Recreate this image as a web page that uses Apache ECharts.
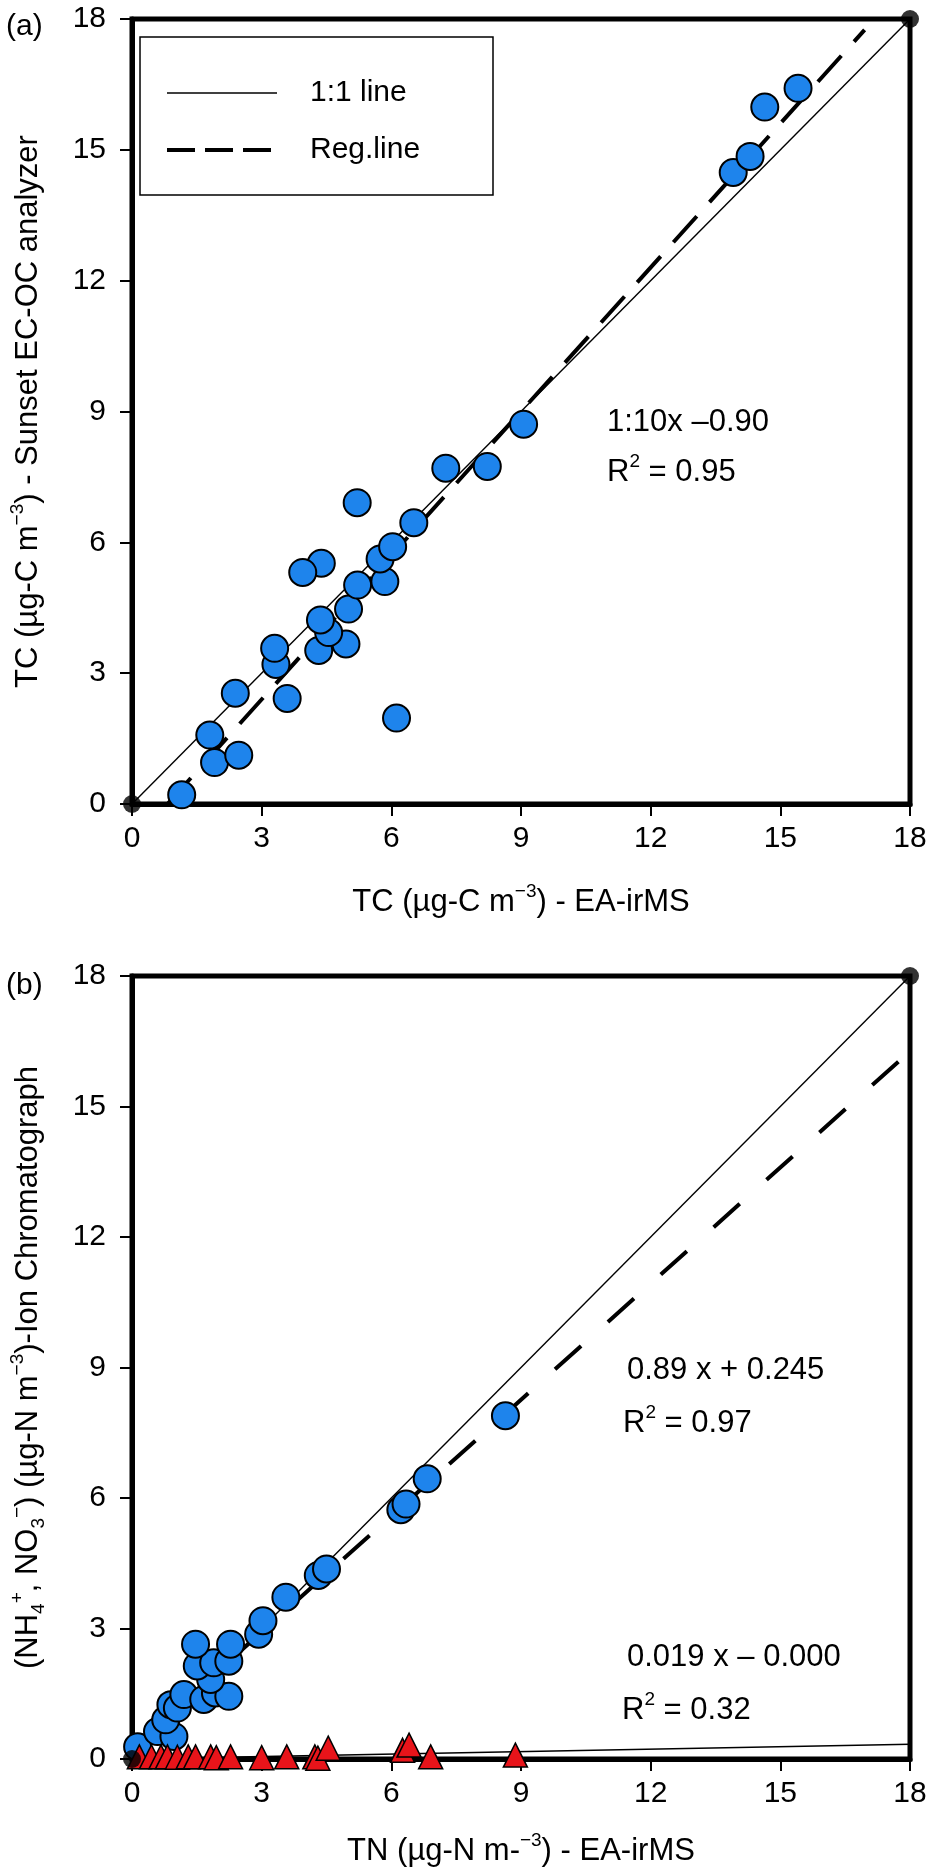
<!DOCTYPE html>
<html lang="en">
<head>
<meta charset="UTF-8">
<title>TC and TN comparison</title>
<script src="https://cdn.jsdelivr.net/npm/echarts@6/dist/echarts.min.js"></script>
<style>
    html, body { margin: 0; padding: 0; background: #fff; }
    #container { width: 930px; height: 1874px; }
</style>
</head>
<body>
<div id="container"></div>

<script type="text/javascript">
    // ---- data ----
    // panel (a): TC, EA-irMS (x) vs Sunset EC-OC analyzer (y)
    var tcEA     = [1.15, 1.91, 2.47, 1.80, 2.39, 3.59, 3.33, 3.30, 4.32, 4.95, 4.55, 4.36, 5.01, 5.22, 5.85, 5.74, 6.03, 5.21, 4.38, 3.95, 6.12, 6.52, 7.26, 8.22, 9.06, 13.91, 14.30, 14.64, 15.41];
    var tcSunset = [0.21, 0.95, 1.12, 1.58, 2.54, 2.42, 3.20, 3.57, 3.52, 3.67, 3.93, 4.22, 4.47, 5.02, 5.10, 5.62, 5.90, 6.91, 5.52, 5.31, 1.97, 6.45, 7.70, 7.74, 8.71, 14.48, 14.85, 15.98, 16.41];
    // regression line (a), end points
    var regAx = [0.82, 16.95];
    var regAy = [0.0, 17.75];

    // panel (b): TN, EA-irMS (x) vs ion chromatograph (y)
    var tnEA = [0.13, 0.59, 0.97, 0.78, 0.90, 1.05, 1.20, 1.66, 1.93, 2.24, 1.82, 1.51, 1.89, 2.24, 1.47, 2.28, 2.93, 3.03, 3.56, 4.31, 4.50, 6.22, 6.34, 6.83, 8.64];
    var tnIC = [0.28, 0.63, 0.52, 0.90, 1.25, 1.17, 1.48, 1.37, 1.52, 1.44, 1.83, 2.14, 2.21, 2.25, 2.64, 2.64, 2.87, 3.18, 3.72, 4.22, 4.37, 5.73, 5.86, 6.44, 7.89];
    // second set (triangles)
    var tnEA2 = [0.17, 0.45, 0.67, 0.82, 1.05, 1.30, 1.47, 1.82, 1.95, 2.28, 3.00, 3.58, 4.23, 4.30, 4.54, 6.26, 6.41, 6.91, 8.87];
    var tnIC2 = [0.05, 0.05, 0.05, 0.05, 0.04, 0.05, 0.05, 0.05, 0.03, 0.05, 0.03, 0.05, 0.05, 0.02, 0.25, 0.20, 0.32, 0.05, 0.09];
    var regBx = [0, 18];
    var regBy = [0.245, 16.27];
    var reg2Bx = [0, 18];
    var reg2By = [0, 0.34];

    // shared
    var oneToOne = [0, 18];
    var ticks = [0, 3, 6, 9, 12, 15, 18];

    var FONT = "'Liberation Sans', Arial, Helvetica, sans-serif";

    function pairs(xs, ys) {
        var out = [];
        for (var i = 0; i < xs.length; i++) out.push([xs[i], ys[i]]);
        return out;
    }

    var richStyle = {
        sup: { fontSize: 19, verticalAlign: 'top', lineHeight: 20, fontFamily: FONT, color: '#000' },
        sub: { fontSize: 19, verticalAlign: 'bottom', lineHeight: 20, fontFamily: FONT, color: '#000' }
    };

    function axis(gridIndex, name, gap, isY) {
        return {
            type: 'value',
            gridIndex: gridIndex,
            min: ticks[0],
            max: ticks[ticks.length - 1],
            interval: 3,
            name: name,
            nameLocation: 'middle',
            nameGap: gap,
            nameTextStyle: {
                fontSize: 31, fontFamily: FONT, color: '#000', lineHeight: 40,
                rich: richStyle
            },
            axisLine: { show: true, onZero: false, lineStyle: { color: '#000', width: 5 } },
            axisTick: { show: true, inside: false, length: 12, lineStyle: { color: '#000', width: 2 } },
            axisLabel: { fontSize: 30, fontFamily: FONT, color: '#000', margin: isY ? 26 : 20 },
            splitLine: { show: false }
        };
    }

    var chart = echarts.init(document.getElementById('container'), null, { renderer: 'canvas' });

    var option = {
        backgroundColor: '#fff',
        animation: false,
        grid: [
            { left: 125, top: 19, width: 785, height: 785, show: true, borderColor: '#000', borderWidth: 5, containLabel: false },
            { left: 126, top: 976, width: 784, height: 783, show: true, borderColor: '#000', borderWidth: 5, containLabel: false }
        ],
        xAxis: [
            axis(0, 'TC (µg-C m{sup|−3}) - EA-irMS', 78, false),
            axis(1, 'TN (µg-N m-{sup|−3}) - EA-irMS', 72, false)
        ],
        yAxis: [
            axis(0, 'TC (µg-C m{sup|−3}) - Sunset EC-OC analyzer', 84, true),
            axis(1, '(NH{sub|4}{sup|+}, NO{sub|3}{sup|−}) (µg-N m{sup|−3})-Ion Chromatograph', 84, true)
        ],
        series: [
            {
                name: '1:1 line', type: 'line', xAxisIndex: 0, yAxisIndex: 0,
                data: pairs(oneToOne, oneToOne), symbol: 'none', z: 2,
                lineStyle: { color: '#000', width: 1.4 }
            },
            {
                name: 'Reg.line', type: 'line', xAxisIndex: 0, yAxisIndex: 0,
                data: pairs(regAx, regAy), symbol: 'none', z: 2,
                lineStyle: { color: '#000', width: 4, type: [35, 19] }
            },
            {
                name: 'TC', type: 'scatter', xAxisIndex: 0, yAxisIndex: 0,
                data: pairs(tcEA, tcSunset), symbol: 'circle', symbolSize: 27, z: 5,
                itemStyle: { color: '#1e84ec', borderColor: '#000', borderWidth: 2, opacity: 1 }
            },
            {
                name: 'ends a', type: 'scatter', xAxisIndex: 0, yAxisIndex: 0,
                data: pairs(oneToOne, oneToOne), symbolSize: 18, z: 6, clip: false,
                itemStyle: { color: '#000' }
            },
            {
                name: '1:1 line b', type: 'line', xAxisIndex: 1, yAxisIndex: 1,
                data: pairs(oneToOne, oneToOne), symbol: 'none', z: 2,
                lineStyle: { color: '#000', width: 1.4 }
            },
            {
                name: 'Reg.line b', type: 'line', xAxisIndex: 1, yAxisIndex: 1,
                data: pairs(regBx, regBy), symbol: 'none', z: 2,
                lineStyle: { color: '#000', width: 4, type: [35, 36] }
            },
            {
                name: 'Reg.line b2', type: 'line', xAxisIndex: 1, yAxisIndex: 1,
                data: pairs(reg2Bx, reg2By), symbol: 'none', z: 2,
                lineStyle: { color: '#000', width: 1.4 }
            },
            {
                name: 'TN', type: 'scatter', xAxisIndex: 1, yAxisIndex: 1,
                data: pairs(tnEA, tnIC), symbol: 'circle', symbolSize: 27, z: 5,
                itemStyle: { color: '#1e84ec', borderColor: '#000', borderWidth: 2, opacity: 1 }
            },
            {
                name: 'TN2', type: 'scatter', xAxisIndex: 1, yAxisIndex: 1,
                data: pairs(tnEA2, tnIC2), symbol: 'triangle', symbolSize: 24, z: 5,
                itemStyle: { color: '#e8141a', borderColor: '#000', borderWidth: 1.5, opacity: 1 }
            },
            {
                name: 'ends b', type: 'scatter', xAxisIndex: 1, yAxisIndex: 1,
                data: pairs(oneToOne, oneToOne), symbolSize: 18, z: 6, clip: false,
                itemStyle: { color: '#000' }
            }
        ],
        graphic: [
            // legend box, panel (a)
            { type: 'rect', shape: { x: 140, y: 37, width: 353, height: 158 }, z: 10,
              style: { fill: '#fff', stroke: '#000', lineWidth: 1.5 } },
            { type: 'line', shape: { x1: 167, y1: 93, x2: 277, y2: 93 }, z: 11,
              style: { stroke: '#000', lineWidth: 1.5 } },
            { type: 'line', shape: { x1: 167, y1: 150, x2: 277, y2: 150 }, z: 11,
              style: { stroke: '#000', lineWidth: 4, lineDash: [28, 10] } },
            { type: 'text', x: 310, y: 93, z: 11,
              style: { text: '1:1 line', fontSize: 30, fontFamily: FONT, fill: '#000', verticalAlign: 'middle' } },
            { type: 'text', x: 310, y: 150, z: 11,
              style: { text: 'Reg.line', fontSize: 30, fontFamily: FONT, fill: '#000', verticalAlign: 'middle' } },

            // panel letters
            { type: 'text', x: 6, y: 27, style: { text: '(a)', fontSize: 30, fontFamily: FONT, fill: '#000', verticalAlign: 'middle' } },
            { type: 'text', x: 6, y: 986, style: { text: '(b)', fontSize: 30, fontFamily: FONT, fill: '#000', verticalAlign: 'middle' } },

            // regression equations
            { type: 'text', x: 607, y: 422, style: { text: '1:10x –0.90', fontSize: 31, fontFamily: FONT, fill: '#000', verticalAlign: 'middle' } },
            { type: 'text', x: 607, y: 472, style: { text: 'R{sup|2} = 0.95', fontSize: 31, fontFamily: FONT, fill: '#000', verticalAlign: 'middle', lineHeight: 40, rich: richStyle } },
            { type: 'text', x: 627, y: 1370, style: { text: '0.89 x + 0.245', fontSize: 31, fontFamily: FONT, fill: '#000', verticalAlign: 'middle' } },
            { type: 'text', x: 623, y: 1423, style: { text: 'R{sup|2} = 0.97', fontSize: 31, fontFamily: FONT, fill: '#000', verticalAlign: 'middle', lineHeight: 40, rich: richStyle } },
            { type: 'text', x: 627, y: 1657, style: { text: '0.019 x – 0.000', fontSize: 31, fontFamily: FONT, fill: '#000', verticalAlign: 'middle' } },
            { type: 'text', x: 622, y: 1710, style: { text: 'R{sup|2} = 0.32', fontSize: 31, fontFamily: FONT, fill: '#000', verticalAlign: 'middle', lineHeight: 40, rich: richStyle } }
        ]
    };

    chart.setOption(option);
</script>
</body>
</html>
